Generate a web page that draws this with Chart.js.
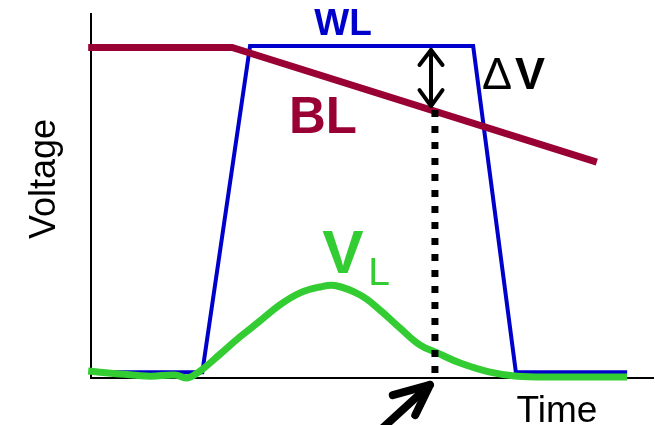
<!DOCTYPE html>
<html>
<head>
<meta charset="utf-8">
<script src="https://cdn.jsdelivr.net/npm/chart.js@4"></script>
<style>
  html, body { margin: 0; padding: 0; background: #fff; }
  #chart { display: block; }
</style>
</head>
<body>
<canvas id="chart" width="655" height="425"></canvas>
<script>
// time runs 0..100, voltage 0..100 (arbitrary units)
const wlTime = [0, 19.8, 28.3, 68.0, 75.6, 95.4];
const wlVolt = [1.6, 1.6, 91.2, 91.2, 1.6, 1.6];

const blTime = [-0.5, 25.1, 90.0];
const blVolt = [90.8, 90.8, 59.3];

const vlTime = [-0.5, 5.2, 10.5, 14.9, 17.1, 19.4, 23.0, 26.5, 30.1, 33.6, 37.2, 40.7, 43.4, 47.9, 51.4, 55.0, 58.5, 61.6, 65.7, 71.0, 75.8, 83.5, 95.4];
const vlVolt = [1.9, 1.1, 0.5, 0.8, 0.0, 1.9, 6.6, 11.3, 15.7, 20.1, 23.4, 25.0, 25.4, 22.8, 18.7, 13.7, 9.1, 6.9, 4.1, 1.6, 0.5, 0.3, 0.3];

const senseTime = [61.2, 61.2];
const senseVolt = [73.6, 0];

// double arrow for delta V
const dvShaftTime = [60.5, 60.5];
const dvShaftVolt = [90.1, 74.7];
const dvTopTime = [58.45, 60.5, 62.55];
const dvTopVolt = [86.0, 90.1, 86.0];
const dvBotTime = [58.45, 60.5, 62.55];
const dvBotVolt = [79.1, 74.7, 79.1];

// pointer arrow under the time axis
const ptrTime = [50.5, 60.3];
const ptrVolt = [-15.7, -1.9];
const ptrHeadTime = [53.7, 60.3, 57.7];
const ptrHeadVolt = [-4.7, -1.9, -10.2];

const toPts = (xs, ys) => xs.map((x, i) => ({ x: x, y: ys[i] }));

function lineSet(xs, ys, color, width, extra) {
  return Object.assign({
    data: toPts(xs, ys),
    borderColor: color,
    borderWidth: width,
    showLine: true,
    pointRadius: 0,
    fill: false,
    clip: false,
    borderCapStyle: 'round',
    borderJoinStyle: 'round'
  }, extra || {});
}

const FONT = '"Liberation Sans", Arial, sans-serif';

const labelsPlugin = {
  id: 'labels',
  afterDatasetsDraw(chart) {
    const ctx = chart.ctx;
    ctx.save();
    ctx.textBaseline = 'alphabetic';
    ctx.textAlign = 'center';

    ctx.fillStyle = '#0000cc';
    ctx.font = 'bold 37px ' + FONT;
    ctx.fillText('WL', 343, 35);

    ctx.fillStyle = '#990033';
    ctx.font = 'bold 51px ' + FONT;
    ctx.fillText('BL', 323, 133);

    ctx.fillStyle = '#000';
    ctx.font = '45px ' + FONT;
    ctx.fillText('Δ', 497, 89);
    ctx.font = 'bold 45px ' + FONT;
    ctx.fillText('V', 530, 89);

    ctx.fillStyle = '#33cc33';
    ctx.font = 'bold 62px ' + FONT;
    ctx.fillText('V', 343, 273);
    ctx.font = '39px ' + FONT;
    ctx.fillText('L', 379, 285);

    ctx.fillStyle = '#000';
    ctx.font = '37px ' + FONT;
    ctx.fillText('Time', 557, 422);

    ctx.translate(55, 179);
    ctx.rotate(-Math.PI / 2);
    ctx.font = '36px ' + FONT;
    ctx.fillText('Voltage', 0, 0);
    ctx.restore();
  }
};

// first dataset is painted on top
new Chart(document.getElementById('chart'), {
  type: 'scatter',
  data: {
    datasets: [
      lineSet(ptrTime, ptrVolt, '#000', 8),
      lineSet(ptrHeadTime, ptrHeadVolt, '#000', 8),
      lineSet(dvShaftTime, dvShaftVolt, '#000', 4),
      lineSet(dvTopTime, dvTopVolt, '#000', 4),
      lineSet(dvBotTime, dvBotVolt, '#000', 4),
      lineSet(senseTime, senseVolt, '#000', 7, { borderDash: [7, 9], borderCapStyle: 'butt' }),
      lineSet(vlTime, vlVolt, '#33cc33', 7, { tension: 0.4, borderCapStyle: 'butt' }),
      lineSet(blTime, blVolt, '#990033', 7, { borderJoinStyle: 'miter', borderCapStyle: 'butt' }),
      lineSet(wlTime, wlVolt, '#0000cc', 4, { borderJoinStyle: 'miter', borderCapStyle: 'butt' })
    ]
  },
  options: {
    responsive: false,
    animation: false,
    layout: { padding: { left: 91, top: 14, right: 2, bottom: 47 } },
    plugins: {
      legend: { display: false },
      tooltip: { enabled: false }
    },
    scales: {
      x: {
        type: 'linear',
        min: 0,
        max: 100,
        grid: { display: false, drawTicks: false },
        ticks: { display: false },
        border: { display: true, color: '#000', width: 2 }
      },
      y: {
        type: 'linear',
        min: 0,
        max: 100,
        grid: { display: false, drawTicks: false },
        ticks: { display: false },
        border: { display: true, color: '#000', width: 2 }
      }
    }
  },
  plugins: [labelsPlugin]
});
</script>
</body>
</html>
